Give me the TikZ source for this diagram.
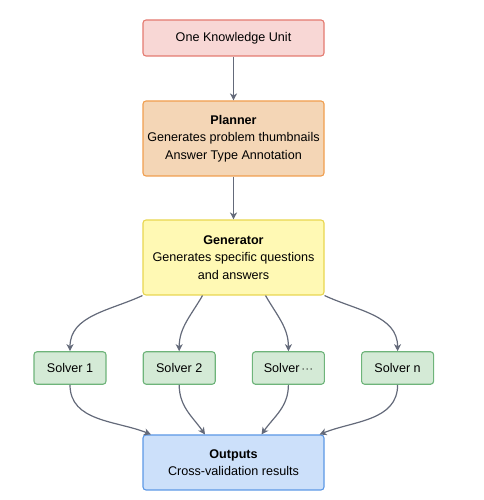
\documentclass[tikz,border=0pt]{standalone}
\usepackage{fontspec}
\setmainfont{Liberation Sans}
\usetikzlibrary{arrows.meta}

\definecolor{unitfill}{RGB}{248,215,213}
\definecolor{unitline}{RGB}{228,122,112}
\definecolor{planfill}{RGB}{244,214,182}
\definecolor{planline}{RGB}{240,158,78}
\definecolor{genfill}{RGB}{255,249,180}
\definecolor{genline}{RGB}{232,214,80}
\definecolor{solvefill}{RGB}{212,234,214}
\definecolor{solveline}{RGB}{110,180,122}
\definecolor{outfill}{RGB}{204,224,250}
\definecolor{outline}{RGB}{92,152,230}
\definecolor{linkgray}{RGB}{100,106,122}

\begin{document}
\begin{tikzpicture}[x=1pt,y=1pt,
  box/.style={draw,rounded corners=3pt,line width=1.1pt,minimum width=181pt,
    align=center,inner sep=0pt,font=\fontsize{12.6}{17.5}\selectfont},
  solverbox/.style={box,minimum width=72pt,minimum height=32.5pt,
    fill=solvefill,draw=solveline},
  link/.style={draw=linkgray,line width=1.2pt,
    -{Stealth[length=7pt,width=7pt,inset=2pt]}}]
  \pgfmathsetmacro\midx{233.5}
  \pgfmathsetmacro\sstep{109.2}
  \pgfmathsetmacro\srow{132}

  \useasboundingbox (0,0) rectangle (483,500);

% pipeline boxes
  \node[box,fill=unitfill,draw=unitline,minimum height=36pt] (unit) at (\midx,462) {One Knowledge Unit};
  \node[box,fill=planfill,draw=planline,minimum height=75pt] (planner) at (\midx,361.5)
    {\textbf{Planner}\\Generates problem thumbnails\\Answer Type Annotation};
  \node[box,fill=genfill,draw=genline,minimum height=75pt] (gen) at (\midx,242.5)
    {\textbf{Generator}\\Generates specific questions\\and answers};

% solvers
  \node[solverbox] (solve1) at (70,\srow) {Solver 1};
  \node[solverbox] (solve2) at (70+\sstep,\srow) {Solver 2};
  \node[solverbox] (solvedots) at (70+2*\sstep,\srow) {Solver\,$\cdot\!\cdot\!\cdot$};
  \node[solverbox] (solven) at (70+3*\sstep,\srow) {Solver n};

% outputs
  \node[box,fill=outfill,draw=outline,minimum height=55pt] (out) at (\midx,37.5)
    {\textbf{Outputs}\\Cross-validation results};

% straight links
  \draw[link] (unit) -- (planner);
  \draw[link] (planner) -- (gen);

% fan out to solvers
  \draw[link] (gen.south west) to[out=-155,in=90] (solve1.north);
  \draw[link] ([xshift=-31pt]gen.south) to[out=-120,in=90] (solve2.north);
  \draw[link] ([xshift=32pt]gen.south) to[out=-60,in=90] (solvedots.north);
  \draw[link] (gen.south east) to[out=-25,in=90] (solven.north);

% gather into outputs
  \draw[link] (solve1.south) to[out=-90,in=158] ([xshift=8.5pt]out.north west);
  \draw[link] (solve2.south) to[out=-90,in=125] ([xshift=-28.5pt]out.north);
  \draw[link] (solvedots.south) to[out=-90,in=55] ([xshift=28pt]out.north);
  \draw[link] (solven.south) to[out=-90,in=22] ([xshift=-5pt]out.north east);

\end{tikzpicture}
\end{document}
